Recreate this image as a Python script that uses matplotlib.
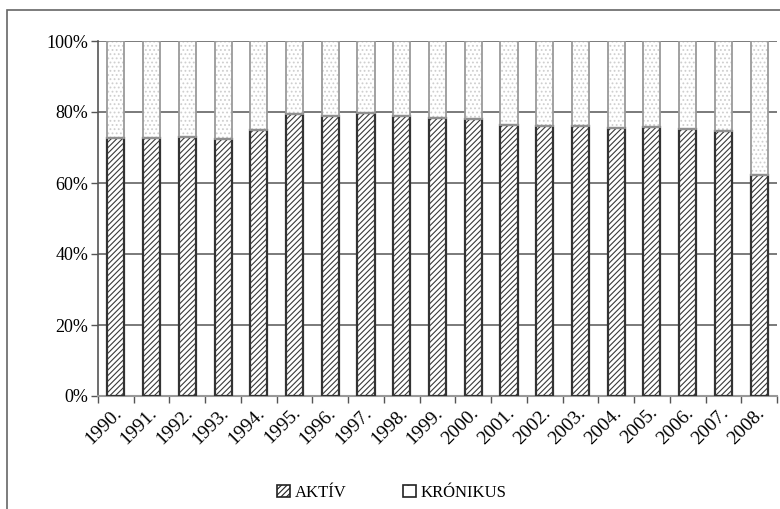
import matplotlib
matplotlib.use("Agg")
import matplotlib.pyplot as plt
from matplotlib.patches import Rectangle
import numpy as np

years = ["1990.", "1991.", "1992.", "1993.", "1994.", "1995.", "1996.", "1997.", "1998.", "1999.",
         "2000.", "2001.", "2002.", "2003.", "2004.", "2005.", "2006.", "2007.", "2008."]
aktiv = [72.7, 72.8, 72.9, 72.5, 75.0, 79.3, 78.9, 79.6, 78.9, 78.2,
         77.9, 76.4, 76.0, 76.0, 75.6, 75.8, 75.1, 74.7, 62.2]
kronikus = [100 - a for a in aktiv]
yticks = [0, 20, 40, 60, 80, 100]
ytick_labels = ["0%", "20%", "40%", "60%", "80%", "100%"]

plt.rcParams['font.family'] = ['Liberation Serif', 'DejaVu Serif']
plt.rcParams['hatch.linewidth'] = 0.8

fig = plt.figure(figsize=(7.8, 5.09), dpi=100)
ax = fig.add_axes([98/780, 1 - 396/509, (777 - 98)/780, (396 - 41)/509])

x = np.arange(len(years))
w = 0.48
# AKTÍV: hatched fill, then dark outline
ax.bar(x, aktiv, w, color='white', edgecolor='#3a3a3a', hatch='//////', linewidth=0, zorder=3)
ax.bar(x, aktiv, w, fill=False, edgecolor='#333333', linewidth=1.6, zorder=4)
# KRÓNIKUS: light stipple, gray outline
ax.bar(x, kronikus, w, bottom=aktiv, color='white', edgecolor='#cfcfcf', hatch='....', linewidth=0, zorder=3)
ax.bar(x, kronikus, w, bottom=aktiv, fill=False, edgecolor='#9a9a9a', linewidth=1.3, zorder=4)

ax.set_xlim(-0.5, len(years) - 0.5)
ax.set_ylim(0, 100)
ax.set_yticks(yticks)
ax.set_yticklabels(ytick_labels, fontsize=13)
ax.yaxis.grid(True, color='#7a7a7a', linewidth=1.4, zorder=0)
ax.set_axisbelow(True)

ax.set_xticks(x)
ax.set_xticklabels(years, rotation=45, ha='right', rotation_mode='anchor', fontsize=14)
ax.set_xticks(np.arange(len(years) + 1) - 0.5, minor=True)
ax.tick_params(axis='x', which='major', length=0, pad=6)
ax.tick_params(axis='x', which='minor', length=5, width=1, color='#555555', direction='out')
ax.tick_params(axis='y', length=5, width=1, color='#555555', pad=2)
for lab in ax.get_xticklabels():
    lab.set_transform(lab.get_transform() + matplotlib.transforms.ScaledTranslation(-3/100, 0, fig.dpi_scale_trans))

for s in ['top', 'right']:
    ax.spines[s].set_visible(False)
ax.spines['left'].set_color('#555555')
ax.spines['bottom'].set_color('#999999')
ax.spines['left'].set_linewidth(1.2)
ax.spines['bottom'].set_linewidth(1.5)

# outer frame
fig.patches.append(Rectangle((7/780, -0.5), 2, 1 - 10/509 + 0.5, transform=fig.transFigure,
                             fill=False, edgecolor='#666666', linewidth=1.2))

h1 = Rectangle((0, 0), 1, 1, facecolor='white', edgecolor='#222222', hatch='//////', linewidth=1.2)
h2 = Rectangle((0, 0), 1, 1, facecolor='white', edgecolor='#222222', hatch='.', linewidth=1.2)
fig.legend([h1, h2], ["AKTÍV", "KRÓNIKUS"], loc='center', bbox_to_anchor=(392/780, 1 - 493/509),
           ncol=2, frameon=False, fontsize=12, handlelength=0.75, handleheight=0.75,
           handletextpad=0.3, columnspacing=3.4)

fig.savefig("out.png", dpi=100)
